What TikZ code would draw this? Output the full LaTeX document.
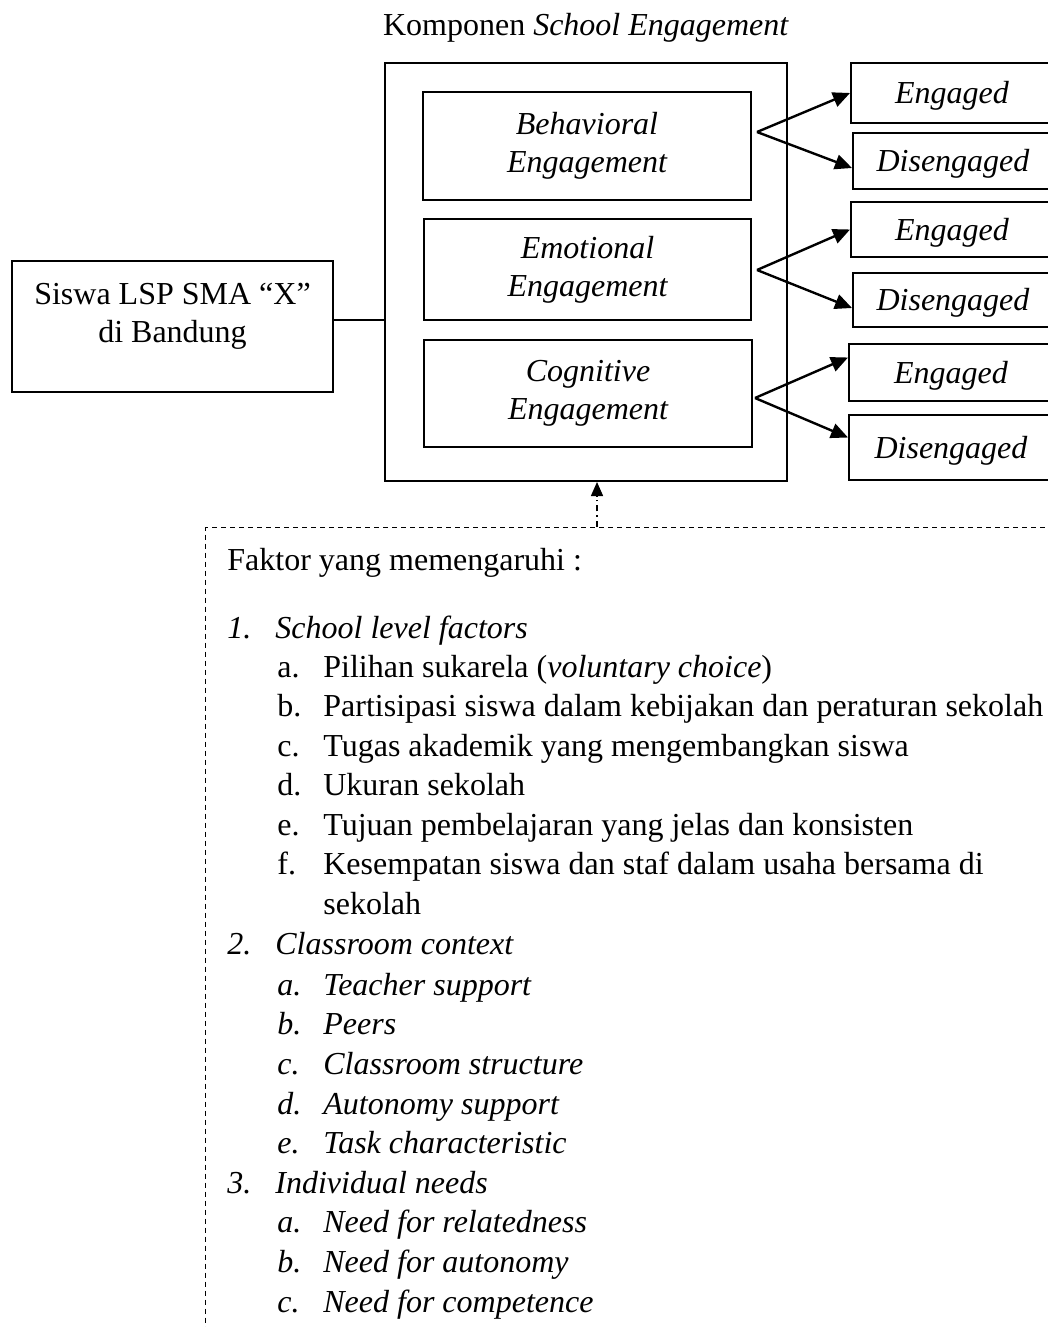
\documentclass[tikz,border=0pt]{standalone}
\usepackage{fontspec}
\setmainfont{Liberation Serif}
\usetikzlibrary{arrows.meta,positioning}

\begin{document}
\begin{tikzpicture}[x=0.5pt,y=-0.5pt,>=Triangle,
 every node/.style={font=\fontsize{16}{19}\selectfont},
 b/.style={draw,line width=1pt,align=center,inner sep=0pt},
 r/.style={b,font=\fontsize{16}{19}\selectfont\itshape,text height=10.5pt,text depth=0pt},
 a/.style={->,line width=1.2pt,>={Triangle[length=8.5pt,width=7.5pt]}},
 d/.style={->,line width=0.7pt,dash pattern=on 3pt off 2pt on 0.8pt off 2pt,>={Triangle[length=7pt,width=6pt]}},
 t/.style={anchor=base west,inner sep=0pt}]
 \useasboundingbox (0,0) rectangle (1048,1327);
 \clip (0,0) rectangle (1048,1327);
 % komponen
 \node (title) at (586,28) {Komponen \textit{School Engagement}};
 \node[b,minimum width=201pt,minimum height=209pt] (comp) at (586,272) {};
 \node[b,minimum width=164pt,minimum height=54pt,font=\fontsize{16}{19}\selectfont\itshape] (beh) at (587,146) {Behavioral\\Engagement};
 \node[b,minimum width=163.5pt,minimum height=50.5pt,font=\fontsize{16}{19}\selectfont\itshape] (emo) at (587.5,269.5) {Emotional\\Engagement};
 \node[b,minimum width=164pt,minimum height=53.5pt,font=\fontsize{16}{19}\selectfont\itshape] (cog) at (588,393.5) {Cognitive\\Engagement};
 % siswa
 \node[b,line width=0.65pt,minimum width=160.5pt,minimum height=65.5pt] (siswa) at (172.5,326.5) {};
 \node[align=center] (siswat) at (172.5,316) {Siswa LSP SMA “X”\\di Bandung};
 \coordinate (sy) at (0,320);
 \draw[line width=0.6pt] (siswa.east |- sy) -- (comp.west |- sy);
 % engaged / disengaged
 \node[r,minimum width=101pt,minimum height=30pt] (eng1) at (952,93) {Engaged};
 \node[r,minimum width=100pt,minimum height=28pt] (dis1) at (953,161) {Disengaged};
 \node[r,minimum width=101pt,minimum height=27.5pt] (eng2) at (952,229.5) {Engaged};
 \node[r,minimum width=100pt,minimum height=27pt] (dis2) at (953,300) {Disengaged};
 \node[r,minimum width=102pt,minimum height=28.5pt] (eng3) at (951,372.5) {Engaged};
 \node[r,minimum width=102pt,minimum height=32.5pt] (dis3) at (951,447.5) {Disengaged};
 \coordinate (f1) at (757,132);
 \coordinate (f2) at (757,270);
 \coordinate (f3) at (755,398);
 \draw[a] (f1) -- (eng1.west); \draw[a] (f1) -- ([yshift=-3.5pt]dis1.west);
 \draw[a] (f2) -- (eng2.west); \draw[a] (f2) -- ([yshift=-4pt]dis2.west);
 \draw[a] (f3) -- ([yshift=7.5pt]eng3.west); \draw[a] (f3) -- ([yshift=5pt]dis3.west);
 % faktor
 \node[draw,line width=0.6pt,dash pattern=on 2.5pt off 2pt,anchor=north west,inner sep=0pt,minimum width=430pt,minimum height=410pt] (fak) at (205,527) {};
 \coordinate (ax) at (597,0);
 \draw[d] (fak.north -| ax) -- (comp.south -| ax);
 \node[t] (f0) at (227,570) {Faktor yang memengaruhi :};
 \node[t] (l1) at (227,638) {\itshape\makebox[24pt][l]{1.}School level factors};
 \node[t] (l1a) at (277,677) {\makebox[23pt][l]{a.}Pilihan sukarela (\textit{voluntary choice})};
 \node[t] (l1b) at (277,716) {\makebox[23pt][l]{b.}Partisipasi siswa dalam kebijakan dan peraturan sekolah};
 \node[t] (l1c) at (277,756) {\makebox[23pt][l]{c.}Tugas akademik yang mengembangkan siswa};
 \node[t] (l1d) at (277,795) {\makebox[23pt][l]{d.}Ukuran sekolah};
 \node[t] (l1e) at (277,835) {\makebox[23pt][l]{e.}Tujuan pembelajaran yang jelas dan konsisten};
 \node[t] (l1f) at (277,874) {\makebox[23pt][l]{f.}Kesempatan siswa dan staf dalam usaha bersama di};
 \node[t] (l1g) at (323,914) {sekolah};
 \node[t] (l2) at (227,954) {\itshape\makebox[24pt][l]{2.}Classroom context};
 \node[t] (l2a) at (277,995) {\itshape\makebox[23pt][l]{a.}Teacher support};
 \node[t] (l2b) at (277,1034) {\itshape\makebox[23pt][l]{b.}Peers};
 \node[t] (l2c) at (277,1074) {\itshape\makebox[23pt][l]{c.}Classroom structure};
 \node[t] (l2d) at (277,1114) {\itshape\makebox[23pt][l]{d.}Autonomy support};
 \node[t] (l2e) at (277,1153) {\itshape\makebox[23pt][l]{e.}Task characteristic};
 \node[t] (l3) at (227,1193) {\itshape\makebox[24pt][l]{3.}Individual needs};
 \node[t] (l3a) at (277,1232) {\itshape\makebox[23pt][l]{a.}Need for relatedness};
 \node[t] (l3b) at (277,1272) {\itshape\makebox[23pt][l]{b.}Need for autonomy};
 \node[t] (l3c) at (277,1312) {\itshape\makebox[23pt][l]{c.}Need for competence};
\end{tikzpicture}
\end{document}
